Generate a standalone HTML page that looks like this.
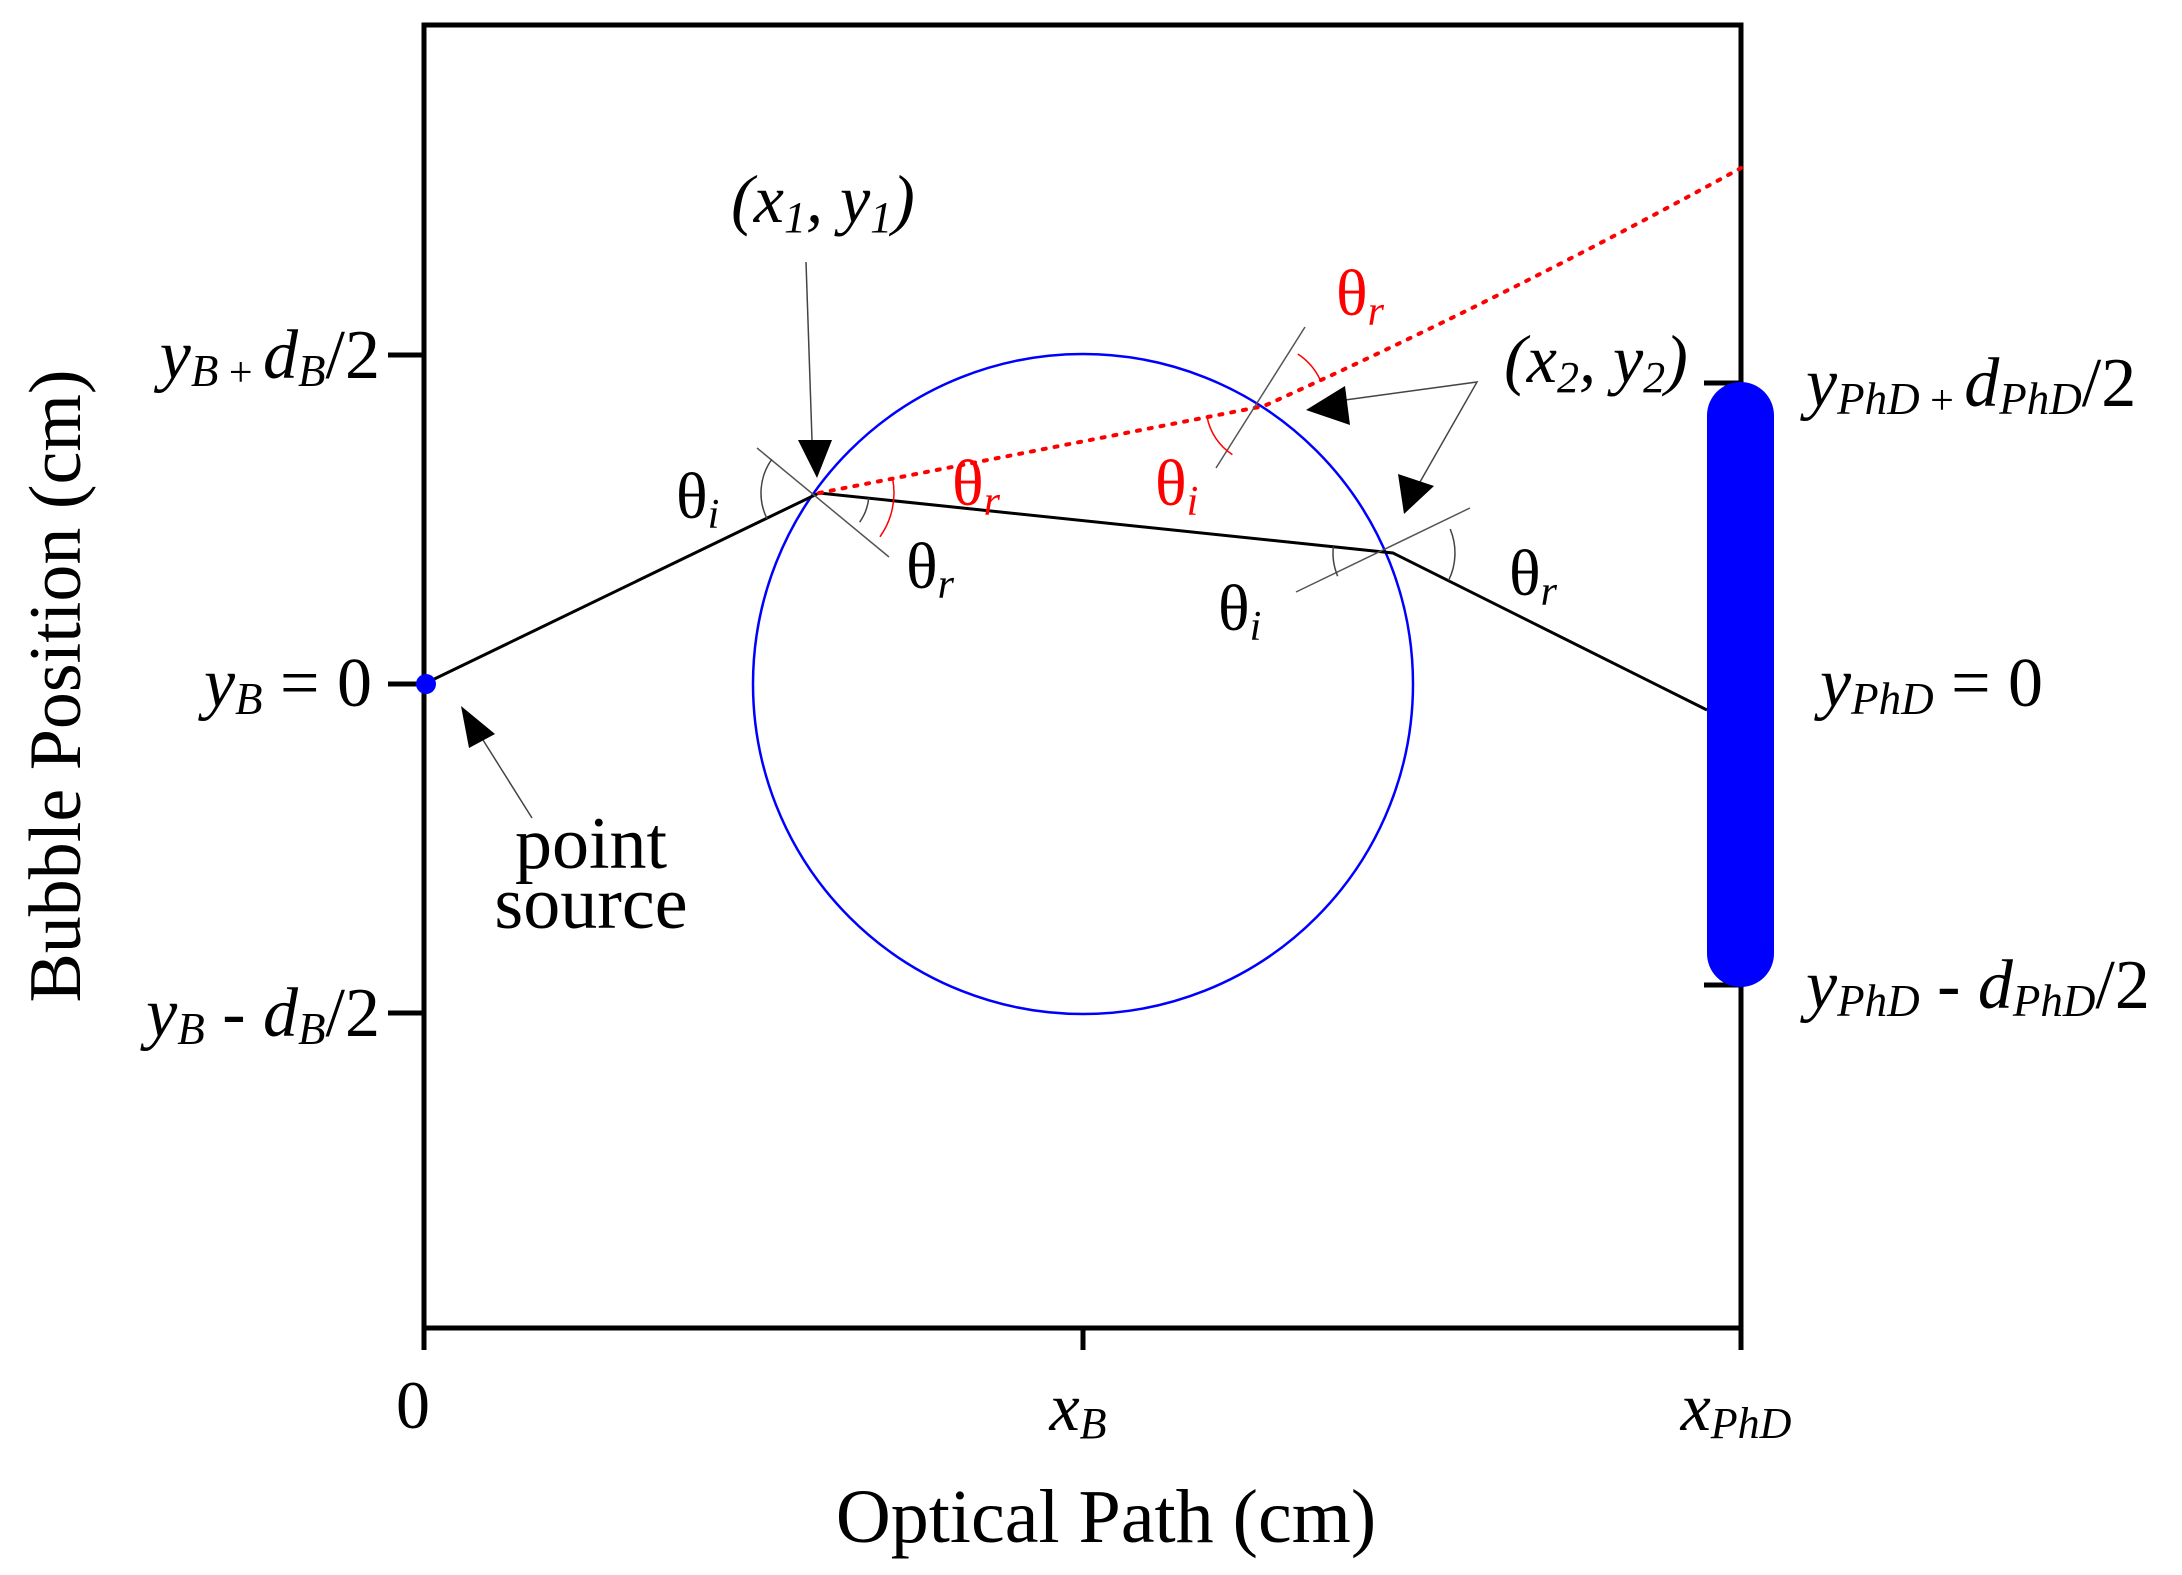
<!DOCTYPE html>
<html><head><meta charset="utf-8"><style>
html,body{margin:0;padding:0;background:#fff;}
svg{display:block;}
text{font-family:"Liberation Serif",serif;}
.it{font-style:italic;}
</style></head><body>
<svg id="s" width="2182" height="1575" viewBox="0 0 2182 1575" xmlns="http://www.w3.org/2000/svg">
<!-- frame -->
<rect x="424" y="25" width="1317" height="1303" fill="none" stroke="#000" stroke-width="5"/>
<line x1="388" y1="355" x2="424" y2="355" stroke="#000" stroke-width="5"/>
<line x1="388" y1="684" x2="424" y2="684" stroke="#000" stroke-width="5"/>
<line x1="388" y1="1013" x2="424" y2="1013" stroke="#000" stroke-width="5"/>
<line x1="1704" y1="383" x2="1741" y2="383" stroke="#000" stroke-width="5"/>
<line x1="1704" y1="985" x2="1741" y2="985" stroke="#000" stroke-width="5"/>
<line x1="424" y1="1328" x2="424" y2="1350" stroke="#000" stroke-width="5"/>
<line x1="1083" y1="1328" x2="1083" y2="1350" stroke="#000" stroke-width="5"/>
<line x1="1741" y1="1328" x2="1741" y2="1350" stroke="#000" stroke-width="5"/>
<circle cx="1083" cy="684" r="330" fill="none" stroke="#0000ff" stroke-width="2.5"/>
<rect x="1707" y="382" width="67" height="605" rx="33.5" fill="#0000ff"/>
<polyline points="424,684 819,493 1393,553 1707,710" fill="none" stroke="#000" stroke-width="3"/>
<path d="M819,493 L1264,406 Q1500,300 1741,168" fill="none" stroke="#ff0000" stroke-width="4" stroke-dasharray="3 9" stroke-linecap="round"/>
<circle cx="426" cy="684" r="10" fill="#0000ff"/>
<line x1="757" y1="448" x2="889" y2="557" stroke="#555" stroke-width="1.5"/>
<line x1="1296" y1="592" x2="1470" y2="508" stroke="#555" stroke-width="1.5"/>
<line x1="1305" y1="327" x2="1216" y2="468" stroke="#555" stroke-width="1.5"/>
<g id="arcs"></g>
<line x1="806" y1="262" x2="812" y2="440" stroke="#444" stroke-width="1.5"/>
<polygon points="798,440 832,440 817,478" fill="#000"/>
<line x1="532" y1="818" x2="478" y2="732" stroke="#444" stroke-width="1.5"/>
<polygon points="461,706 495,734 469,748" fill="#000"/>
<polyline points="1345,400 1477,382 1420,482" fill="none" stroke="#444" stroke-width="1.5"/>
<polygon points="1306,410 1345,386 1350,425" fill="#000"/>
<polygon points="1404,514 1398,474 1434,486" fill="#000"/>
<g font-size="68">
<text x="823" y="222" text-anchor="middle" class="it">(x<tspan font-size="44" dy="10">1</tspan><tspan dy="-10">, y</tspan><tspan font-size="44" dy="10">1</tspan><tspan dy="-10">)</tspan></text>
<text x="1596" y="382" text-anchor="middle" class="it">(x<tspan font-size="44" dy="10">2</tspan><tspan dy="-10">, y</tspan><tspan font-size="44" dy="10">2</tspan><tspan dy="-10">)</tspan></text>
</g>
<g font-size="66">
<text x="1336" y="315" fill="#f00">θ<tspan font-size="42" dy="10" class="it">r</tspan></text>
<text x="952" y="505" fill="#f00">θ<tspan font-size="42" dy="10" class="it">r</tspan></text>
<text x="1155" y="505" fill="#f00">θ<tspan font-size="42" dy="10" class="it">i</tspan></text>
<text x="676" y="518">θ<tspan font-size="42" dy="10" class="it">i</tspan></text>
<text x="906" y="588">θ<tspan font-size="42" dy="10" class="it">r</tspan></text>
<text x="1218" y="630">θ<tspan font-size="42" dy="10" class="it">i</tspan></text>
<text x="1509" y="595">θ<tspan font-size="42" dy="10" class="it">r</tspan></text>
</g>
<g font-size="70" text-anchor="end">
<text x="380" y="378"><tspan class="it">y</tspan><tspan class="it" font-size="45" dy="8">B</tspan><tspan font-size="42"> + </tspan><tspan class="it" dy="-8">d</tspan><tspan class="it" font-size="45" dy="8">B</tspan><tspan dy="-8">/2</tspan></text>
<text x="372" y="706"><tspan class="it">y</tspan><tspan class="it" font-size="45" dy="8">B</tspan><tspan dy="-8"> = 0</tspan></text>
<text x="380" y="1036"><tspan class="it">y</tspan><tspan class="it" font-size="45" dy="8">B</tspan><tspan dy="-8"> - </tspan><tspan class="it">d</tspan><tspan class="it" font-size="45" dy="8">B</tspan><tspan dy="-8">/2</tspan></text>
</g>
<g font-size="70">
<text x="1806" y="406"><tspan class="it">y</tspan><tspan class="it" font-size="45" dy="8">PhD</tspan><tspan font-size="42"> + </tspan><tspan class="it" dy="-8">d</tspan><tspan class="it" font-size="45" dy="8">PhD</tspan><tspan dy="-8">/2</tspan></text>
<text x="1820" y="706"><tspan class="it">y</tspan><tspan class="it" font-size="45" dy="8">PhD</tspan><tspan dy="-8"> = 0</tspan></text>
<text x="1806" y="1008"><tspan class="it">y</tspan><tspan class="it" font-size="45" dy="8">PhD</tspan><tspan dy="-8"> - </tspan><tspan class="it">d</tspan><tspan class="it" font-size="45" dy="8">PhD</tspan><tspan dy="-8">/2</tspan></text>
</g>
<g font-size="74" text-anchor="middle">
<text x="591" y="868">point</text>
<text x="591" y="928">source</text>
<text x="413" y="1428" font-size="68">0</text>
<text x="1078" y="1430" class="it" font-size="68">x<tspan font-size="44" dy="8">B</tspan></text>
<text x="1736" y="1430" class="it" font-size="68">x<tspan font-size="44" dy="8">PhD</tspan></text>
<text x="1106" y="1542" font-size="76">Optical Path (cm)</text>
<text transform="translate(80,686) rotate(-90)" font-size="74">Bubble Position (cm)</text>
</g>
</svg>
<script>
function arc(cx,cy,r,a1,a2,c){
 var t=Math.PI/180;
 var x1=cx+r*Math.cos(a1*t),y1=cy+r*Math.sin(a1*t),x2=cx+r*Math.cos(a2*t),y2=cy+r*Math.sin(a2*t);
 var p=document.createElementNS("http://www.w3.org/2000/svg","path");
 p.setAttribute("d","M"+x1+","+y1+" A"+r+","+r+" 0 0 1 "+x2+","+y2);
 p.setAttribute("fill","none");p.setAttribute("stroke",c);p.setAttribute("stroke-width","1.5");
 document.getElementById("arcs").appendChild(p);
}
arc(819,493,58,153.7,215.7,"#444");
arc(819,493,50,6,35.7,"#444");
arc(819,493,75,-11,35.7,"#f00");
arc(1393,553,60,157.3,186,"#444");
arc(1393,553,62,-22.7,26.3,"#444");
arc(1264,406,58,123,169,"#f00");
arc(1264,406,62,-57,-26,"#f00");
</script>
</body></html>
